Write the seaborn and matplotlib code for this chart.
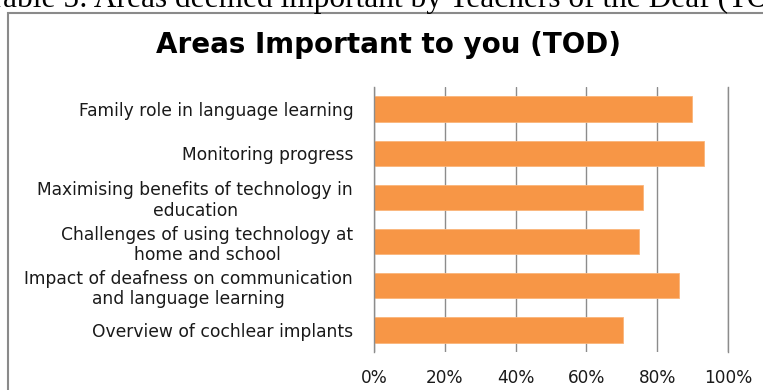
import matplotlib
matplotlib.use("Agg")
import matplotlib.pyplot as plt
from matplotlib.patches import Rectangle
from matplotlib.ticker import PercentFormatter
import seaborn as sns
import pandas as pd

categories = [
    "Family role in language learning",
    "Monitoring progress",
    "Maximising benefits of technology in\neducation",
    "Challenges of using technology at\nhome and school",
    "Impact of deafness on communication\nand language learning",
    "Overview of cochlear implants",
]
values = [0.897, 0.933, 0.759, 0.749, 0.862, 0.704]
x_ticks = [0, 0.2, 0.4, 0.6, 0.8, 1.0]

chart_title = "Areas Important to you (TOD)"
caption = "Table 5: Areas deemed important by Teachers of the Deaf (TOD)"

sns.set_theme(style="white")
plt.rcParams["font.family"] = ["DejaVu Sans"]

W, H = 763, 390
fig = plt.figure(figsize=(W / 100, H / 100), dpi=100)
ax = fig.add_axes([374 / W, 1 - 352 / H, (728 - 374) / W, (352 - 87) / H])

df = pd.DataFrame({"area": categories, "share": values})
sns.barplot(data=df, x="share", y="area", orient="h", color="#F79646",
            saturation=1, width=0.57, ax=ax, edgecolor="#FBB57A", linewidth=0.6)

ax.set_xlim(0, 1.0)
ax.set_xticks(x_ticks)
ax.xaxis.set_major_formatter(PercentFormatter(1.0, decimals=0))
ax.set_xlabel("")
ax.set_ylabel("")
ax.grid(axis="x", color="#8C8C8C", linewidth=1.0)
ax.set_axisbelow(True)
for side in ["top", "bottom"]:
    ax.spines[side].set_visible(False)
for side in ["left", "right"]:
    ax.spines[side].set_color("#8C8C8C")
    ax.spines[side].set_linewidth(1.0)
ax.tick_params(axis="x", length=0, pad=12, labelsize=12.2, labelcolor="#1a1a1a")
ax.tick_params(axis="y", length=0, pad=15, labelsize=12.3, labelcolor="#1a1a1a")
for lab in ax.get_yticklabels():
    lab.set_multialignment("center")
    lab.set_linespacing(1.15)

fig.text(389 / W, 1 - 45 / H, chart_title, ha="center", va="center",
         fontsize=20, fontweight="bold", color="#000000")

# outer chart frame, running off the right and bottom edges
fig.patches.append(Rectangle((8 / W, -0.1), 1.2, 1 - 13 / H + 0.1,
                             transform=fig.transFigure, fill=False,
                             edgecolor="#8A8A8A", linewidth=1.5))

# caption line from the page above, partly cut off
fig.text(-14 / W, 1 - 7 / H, caption, ha="left", va="baseline",
         fontsize=22.6, family="Liberation Serif", color="#000000")

fig.savefig("out.png", dpi=100)
